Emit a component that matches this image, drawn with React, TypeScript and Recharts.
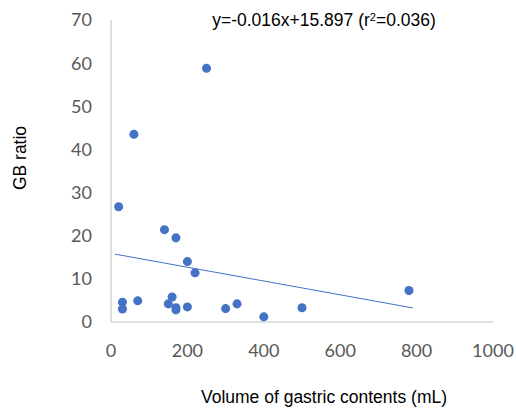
import React from 'react';
import { ScatterChart, Scatter, XAxis, YAxis, ZAxis, Label } from 'recharts';

// volume of gastric contents (mL)
const volume = [250, 60, 20, 140, 170, 200, 220, 780, 30, 30, 70, 160, 150, 170, 170, 200, 300, 330, 400, 500];
// GB ratio
const gbRatio = [58.8, 43.5, 26.7, 21.4, 19.5, 14.0, 11.4, 7.3, 4.6, 3.0, 4.9, 5.8, 4.2, 3.3, 2.8, 3.5, 3.1, 4.2, 1.2, 3.3];

// trendline end points, y=-0.016x+15.897
const trendX = [10, 790];
const trendY = [15.74, 3.26];

const xTicks = [0, 200, 400, 600, 800, 1000];
const yTicks = [0, 10, 20, 30, 40, 50, 60, 70];

const BLUE = '#4472C4';
const ARIAL = '"Liberation Sans", Arial, sans-serif';

export default function App() {
  const points = volume.map((v, i) => ({ x: v, y: gbRatio[i] }));
  const trend = trendX.map((v, i) => ({ x: v, y: trendY[i] }));
  const tickStyle = { fill: '#595959', fontSize: 18, fontFamily: 'Lato, sans-serif' };

  return (
    <div style={{ position: 'absolute', left: 0, top: 0, width: 516, height: 408, background: '#fff' }}>
      <div
        style={{
          position: 'absolute', left: 124, width: 400, top: 9, textAlign: 'center', whiteSpace: 'nowrap',
          fontFamily: ARIAL, fontSize: 17.5, color: '#000', lineHeight: '22px',
        }}
      >
        y=-0.016x+15.897 (r<sup style={{ fontSize: 11, lineHeight: 0, verticalAlign: '0.5em' }}>2</sup>=0.036)
      </div>
      <ScatterChart width={516} height={408} margin={{ top: 20, right: 23, bottom: 56, left: 51 }}>
        <XAxis
          type="number" dataKey="x" domain={[0, 1000]} ticks={xTicks} height={30}
          axisLine={{ stroke: '#BFBFBF' }} tickLine={false} tickSize={0} tickMargin={22}
          tick={tickStyle} interval={0} allowDataOverflow
        >
          <Label
            value="Volume of gastric contents (mL)" position="bottom" offset={39} dx={22}
            style={{ fill: '#000', fontSize: 17.5, fontFamily: ARIAL }}
          />
        </XAxis>
        <YAxis
          type="number" dataKey="y" domain={[0, 70]} ticks={yTicks} width={60}
          axisLine={{ stroke: '#BFBFBF' }} tickLine={false} tickSize={0} tickMargin={19}
          tick={tickStyle} interval={0}
        >
          <Label
            value="GB ratio" angle={-90} position="insideLeft" offset={-31} dy={-13}
            style={{ textAnchor: 'middle', fill: '#000', fontSize: 17.5, fontFamily: ARIAL }}
          />
        </YAxis>
        <ZAxis range={[40, 40]} />
        <Scatter data={points} fill={BLUE} isAnimationActive={false} />
        <Scatter
          data={trend} line={{ stroke: BLUE, strokeWidth: 1 }} shape={() => null}
          fill="none" isAnimationActive={false}
        />
      </ScatterChart>
    </div>
  );
}
